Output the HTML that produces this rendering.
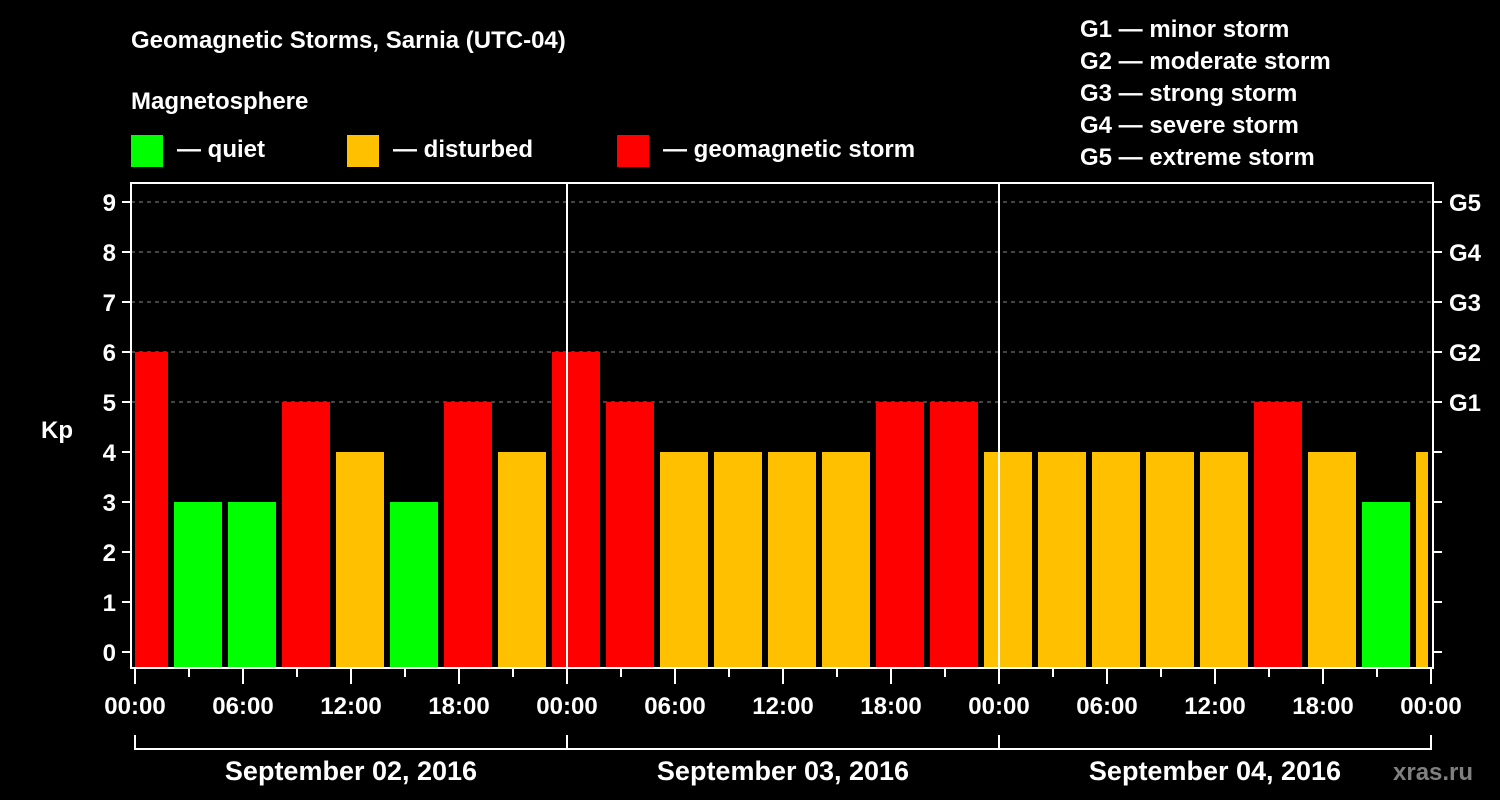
<!DOCTYPE html>
<html><head><meta charset="utf-8"><style>
html,body{margin:0;padding:0;background:#000;}
svg{display:block;font-family:"Liberation Sans",Arial,sans-serif;font-weight:bold;}
</style></head><body>
<svg id="chart" width="1500" height="800" viewBox="0 0 1500 800">
<rect x="0" y="0" width="1500" height="800" fill="#000"/>
<g id="header" fill="#fff" font-size="24">
<text x="131" y="48">Geomagnetic Storms, Sarnia (UTC-04)</text>
<text x="131" y="109">Magnetosphere</text>
<rect x="131" y="135" width="32" height="32" fill="#00ff00"/>
<text x="177" y="157">— quiet</text>
<rect x="347" y="135" width="32" height="32" fill="#ffc000"/>
<text x="393" y="157">— disturbed</text>
<rect x="617" y="135" width="32" height="32" fill="#ff0000"/>
<text x="663" y="157">— geomagnetic storm</text>
<text x="1080" y="37">G1 — minor storm</text>
<text x="1080" y="69">G2 — moderate storm</text>
<text x="1080" y="101">G3 — strong storm</text>
<text x="1080" y="133">G4 — severe storm</text>
<text x="1080" y="165">G5 — extreme storm</text>
<text x="41" y="438">Kp</text>
<text x="1393" y="780" fill="#808080">xras.ru</text>
</g>
<g id="grid"></g>
<g id="bars"></g>
<g id="axes"></g>
</svg>
<script>
const kpValues = [6,3,3,5,4,3,5,4,6,5,4,4,4,4,5,5,4,4,4,4,4,5,4,3,4];
const firstBarHour = -1;
const barHours = 3;
const yTicks = [0,1,2,3,4,5,6,7,8,9];
const gridLevels = [5,6,7,8,9];
const gLabels = ["G1","G2","G3","G4","G5"];
const xTickLabels = ["00:00","06:00","12:00","18:00","00:00","06:00","12:00","18:00","00:00","06:00","12:00","18:00","00:00"];
const dayLabels = ["September 02, 2016","September 03, 2016","September 04, 2016"];
const totalHours = 72;

const NS = "http://www.w3.org/2000/svg";
const X0 = 135, X1 = 1431, PL = 131, PR = 1433, PT = 183, PB = 668;
const xs = h => X0 + (X1 - X0) * h / totalHours;
const ys = v => 652 - v * 50;
function mk(tag, attrs, parent) {
  const e = document.createElementNS(NS, tag);
  for (const k in attrs) e.setAttribute(k, attrs[k]);
  parent.appendChild(e); return e;
}
const grid = document.getElementById('grid'), bars = document.getElementById('bars'), axes = document.getElementById('axes');

gridLevels.forEach(v => {
  const l = mk('line', {x1: PL, x2: PR, y1: ys(v), y2: ys(v), stroke: '#888', 'stroke-width': 1, 'stroke-dasharray': '4,4'}, grid);
  
  
});

kpValues.forEach((v, i) => {
  const h0 = firstBarHour + i * barHours;
  let a = xs(h0) + 3, b = xs(h0 + barHours) - 3;
  a = Math.max(a, PL + 4); b = Math.min(b, PR - 5);
  const color = v >= 5 ? '#ff0000' : (v >= 4 ? '#ffc000' : '#00ff00');
  const r = mk('rect', {x: a, y: ys(v), width: b - a, height: PB - ys(v), fill: color}, bars);
  
  
});

// day separators
for (let d = 1; d < 3; d++) {
  const l = mk('line', {x1: xs(d*24), x2: xs(d*24), y1: PT, y2: PB, stroke: '#fff', 'stroke-width': 2}, axes);
  
  
}
// frame
const fr = mk('rect', {x: PL, y: PT, width: PR - PL, height: PB - PT, fill: 'none', stroke: '#fff', 'stroke-width': 2}, axes);



yTicks.forEach(v => {
  mk('line', {x1: PL - 9, x2: PL, y1: ys(v), y2: ys(v), stroke: '#fff', 'stroke-width': 2}, axes);
  mk('line', {x1: PR, x2: PR + 9, y1: ys(v), y2: ys(v), stroke: '#fff', 'stroke-width': 2}, axes);
  const t = mk('text', {x: 116, y: ys(v) + 9, fill: '#fff', 'font-size': 24, 'text-anchor': 'end'}, axes);
  t.textContent = v;
  
  
});
gLabels.forEach((g, i) => {
  const t = mk('text', {x: 1449, y: ys(5 + i) + 9, fill: '#fff', 'font-size': 24}, axes);
  t.textContent = g;
  
  
});
for (let h = 0; h <= totalHours; h += 3) {
  const major = h % 6 === 0;
  mk('line', {x1: xs(h), x2: xs(h), y1: PB, y2: major ? 684 : 677, stroke: '#fff', 'stroke-width': 2}, axes);
}
xTickLabels.forEach((s, i) => {
  const t = mk('text', {x: xs(i * 6), y: 714, fill: '#fff', 'font-size': 24, 'text-anchor': 'middle'}, axes);
  t.textContent = s;
  
  
});
const br = mk('path', {d: 'M' + xs(0) + ' 735 V749 H' + xs(totalHours) + ' V735', fill: 'none', stroke: '#fff', 'stroke-width': 2}, axes);


dayLabels.forEach((s, i) => {
  mk('line', {x1: xs(i*24), x2: xs(i*24), y1: 735, y2: 749, stroke: '#fff', 'stroke-width': 2}, axes);
  const t = mk('text', {x: xs(i*24 + 12), y: 780, fill: '#fff', 'font-size': 27, 'text-anchor': 'middle'}, axes);
  t.textContent = s;
  
  
});
</script>
</body></html>
